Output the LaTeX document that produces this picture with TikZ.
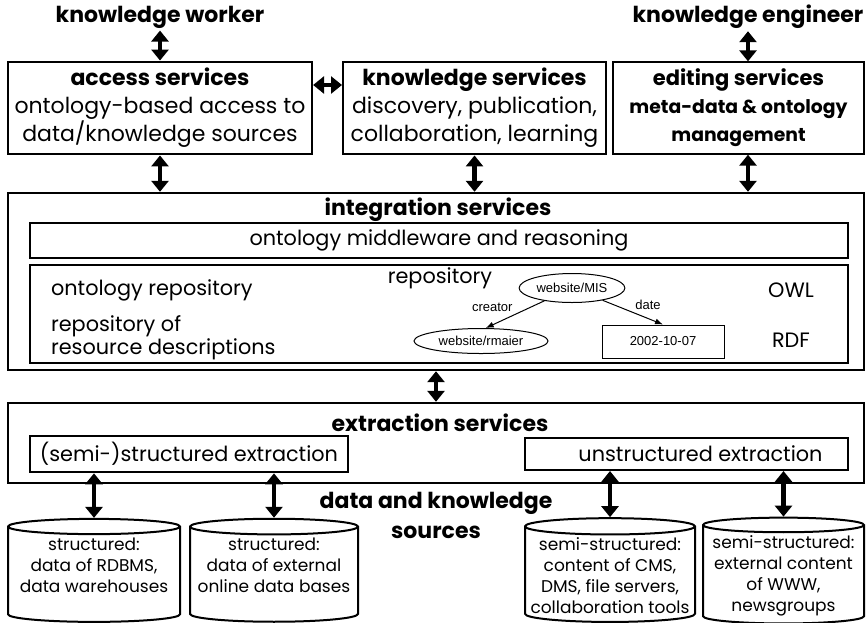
\documentclass[tikz,border=0pt]{standalone}
\usepackage{fontspec}
\setmainfont{Poppins}
\newfontfamily\arialfont{Liberation Sans}
\usetikzlibrary{arrows.meta}
\usetikzlibrary{shapes.geometric}

\begin{document}
\begin{tikzpicture}[
  x=0.5pt, y=-0.5pt,
  box/.style={
      draw=black,
      line width=1pt,
      minimum height=45pt,
      align=center,
      font=\fontsize{11}{14}\selectfont
  },
  frame/.style={draw=black, line width=1.2pt, minimum width=428pt},
  inbox/.style={draw=black, line width=1pt, align=center, font=\fontsize{10.4}{13}\selectfont},
  title/.style={font=\fontsize{11}{15}\selectfont\bfseries, align=center},
  txt/.style={font=\fontsize{10.4}{11.5}\selectfont, align=left},
  cyl/.style={
      draw=black, line width=1pt,
      shape=cylinder, shape border rotate=90, aspect=0.1,
      minimum height=51.5pt,
      align=center, inner sep=1pt,
      font=\fontsize{8.5}{10.5}\selectfont
  },
  rdf/.style={draw=black, line width=0.5pt, inner sep=1pt, font=\arialfont\fontsize{6.5}{8}\selectfont},
  dbl/.style={{Triangle[width=8.5pt,length=5.5pt]}-{Triangle[width=8.5pt,length=5.5pt]}, line width=2.4pt},
  arr/.style={-{Latex[length=4pt,width=3pt]}, line width=0.5pt}
]
\useasboundingbox (0,0) rectangle (866,622);

% users
\node[title, inner sep=1pt] (worker)   at (160,17)  {knowledge worker};
\node[title, inner sep=1pt] (engineer) at (748,17)  {knowledge engineer};

% service boxes
\node[box, minimum width=152pt]   (access) at (160,108)   {\textbf{access services}\\ontology-based access to\\data/knowledge sources};
\node[box, minimum width=131.5pt] (know)   at (474.5,108) {\textbf{knowledge services}\\discovery, publication,\\collaboration, learning};
\node[box, minimum width=125.5pt, font=\fontsize{9.4}{14}\selectfont\bfseries] (edit) at (738.5,108)
  {{\fontsize{10.5}{14}\selectfont editing services}\\meta-data \& ontology\\management};

% integration layer
\node[frame, minimum height=88.5pt] (integ) at (436,281.5) {};
\node[title] (integtitle) at (438,210) {integration services};
\node[inbox, minimum width=409pt, minimum height=17.5pt] (middle) at (439,240.5) {ontology middleware and reasoning};
\node[inbox, minimum width=409pt, minimum height=49pt]   (repo)   at (439,314)   {};
\node[txt, anchor=west] (ontrepo) at (44,290)    {ontology repository};
\node[txt, anchor=west] (resrepo) at (44,337.5)  {repository of\\resource descriptions};
\node[txt] (repolabel) at (440,278) {repository};
\node[txt] (owl) at (791,290) {OWL};
\node[txt] (rdf) at (791,340) {RDF};

% rdf example
\node[rdf, ellipse, minimum width=47.5pt, minimum height=14.5pt] (mis)    at (572,288)   {website/MIS};
\node[rdf, ellipse, minimum width=67pt,   minimum height=12.5pt] (rmaier) at (481,341)   {website/rmaier};
\node[rdf, minimum width=61pt, minimum height=16.5pt]            (date)   at (663,341.5) {2002-10-07};
\draw[arr] (mis) -- node[above left, font=\arialfont\fontsize{6.5}{8}\selectfont, inner sep=1pt] {creator} (rmaier.70);
\draw[arr] (mis) -- node[above right, font=\arialfont\fontsize{6.5}{8}\selectfont, inner sep=1pt] {date} (date.north);

% extraction layer
\node[frame, minimum height=40pt] (extr) at (436,443) {};
\node[title] (extrtitle) at (440,423) {extraction services};
\node[inbox, minimum width=159pt,   minimum height=16pt] (semi)   at (189,454)   {(semi-)structured extraction};
\node[inbox, minimum width=161.5pt, minimum height=16pt] (unstr)  at (686.5,454) {\hspace*{14pt}unstructured extraction};
\node[title] (sources) at (436,515) {data and knowledge\\sources};

% data sources
\node[cyl, minimum width=86pt]   (rdbms)  at (94,575.5)    {structured:\\data of RDBMS,\\data warehouses\\\mbox{}};
\node[cyl, minimum width=84pt]   (online) at (274,575.5)   {structured:\\data of external\\online data bases\\\mbox{}};
\node[cyl, minimum width=85pt]   (cms)    at (610,575.5)   {semi-structured:\\content of CMS,\\DMS, file servers,\\collaboration tools};
\node[cyl, minimum width=80.5pt] (www)    at (783.5,575.5) {semi-structured:\\external content\\of WWW,\\newsgroups};

% connectors
\draw[dbl] (worker) -- (access);
\draw[dbl] (engineer) -- (engineer |- edit.north);
\draw[dbl] ([yshift=11.5pt]access.east) -- ([yshift=11.5pt]know.west);
\draw[dbl] (access.south) -- (access.south |- integ.north);
\draw[dbl] (know.south) -- (know.south |- integ.north);
\draw[dbl] (engineer |- edit.south) -- (engineer |- integ.north);
\draw[dbl] (integ.south) -- (extr.north);
\draw[dbl] (rdbms.north |- semi.south) -- (rdbms.north);
\draw[dbl] (online.north |- semi.south) -- (online.north);
\draw[dbl] (cms.north |- unstr.south) -- (cms.north);
\draw[dbl] (www.north |- unstr.south) -- (www.north);

\end{tikzpicture}
\end{document}
